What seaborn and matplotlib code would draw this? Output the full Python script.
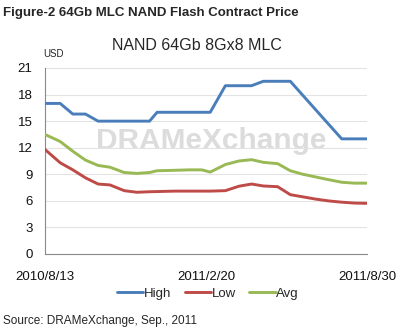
import matplotlib
matplotlib.use("Agg")
import matplotlib.pyplot as plt
import matplotlib.dates as mdates
import seaborn as sns
import pandas as pd
import numpy as np

dates = ["2010-08-13", "2010-08-31", "2010-09-15", "2010-09-30", "2010-10-15",
         "2010-10-29", "2010-11-15", "2010-11-30", "2010-12-15", "2010-12-24",
         "2011-01-14", "2011-01-31", "2011-02-15", "2011-02-25", "2011-03-15",
         "2011-03-31", "2011-04-15", "2011-04-29", "2011-05-16", "2011-05-31",
         "2011-06-15", "2011-06-30", "2011-07-15", "2011-07-31", "2011-08-15",
         "2011-08-30"]
high = [17.0, 17.0, 15.8, 15.8, 15.0, 15.0, 15.0, 15.0, 15.0, 16.0,
        16.0, 16.0, 16.0, 16.0, 19.0, 19.0, 19.0, 19.5, 19.5, 19.5,
        17.9, 16.3, 14.7, 13.0, 13.0, 13.0]
low = [11.8, 10.3, 9.5, 8.6, 7.9, 7.8, 7.15, 6.97, 7.03, 7.05,
       7.1, 7.1, 7.1, 7.1, 7.15, 7.65, 7.9, 7.68, 7.6, 6.7,
       6.45, 6.2, 6.0, 5.85, 5.75, 5.72]
avg = [13.5, 12.7, 11.6, 10.6, 10.0, 9.8, 9.2, 9.1, 9.2, 9.4,
       9.45, 9.5, 9.5, 9.25, 10.1, 10.5, 10.65, 10.35, 10.2, 9.4,
       9.0, 8.7, 8.4, 8.1, 8.0, 8.0]
series_names = ["High", "Low", "Avg"]
colors = ["#4A7EBB", "#BE4B48", "#98B954"]
yticks = [0, 3, 6, 9, 12, 15, 18, 21]
xtick_labels = ["2010/8/13", "2011/2/20", "2011/8/30"]

df = pd.DataFrame({"date": pd.to_datetime(dates), "High": high, "Low": low, "Avg": avg})
long = df.melt(id_vars="date", value_vars=series_names, var_name="series", value_name="price")

sns.set_style("white")
plt.rcParams["font.family"] = ["Liberation Sans", "DejaVu Sans"]

fig = plt.figure(figsize=(3.99, 3.33), dpi=100)
ax = fig.add_axes([45/399, 1-254/333, (367-45)/399, (254-68)/333])

# watermark
ax.text(0.515, 0.605, "DRAMeXchange", transform=ax.transAxes, ha="center", va="center",
        fontsize=21.5, fontweight="bold", color="#dcdcdc", zorder=0)

sns.lineplot(data=long, x="date", y="price", hue="series", hue_order=series_names,
             palette=colors, linewidth=2.1, ax=ax, legend=True, zorder=3)

ax.set_ylim(0, 21)
ax.set_yticks(yticks)
ax.set_yticklabels([str(v) for v in yticks], fontsize=9.5)
xt = pd.to_datetime(["2010-08-13", "2011-02-20", "2011-08-30"])
ax.set_xlim(xt[0], xt[-1])
ax.set_xticks(mdates.date2num(xt))
ax.set_xticklabels(xtick_labels, fontsize=9.5)
ax.set_xlabel("")
ax.set_ylabel("")
ax.grid(axis="y", color="#e3e3e3", linewidth=0.8)
ax.grid(axis="x", visible=False)
for s in ["top", "right"]:
    ax.spines[s].set_visible(False)
for s in ["left", "bottom"]:
    ax.spines[s].set_color("#8a8a8a")
    ax.spines[s].set_linewidth(0.8)
ax.tick_params(axis="both", which="both", length=4, width=0.8, color="#8a8a8a",
               direction="out", pad=5, labelcolor="#111111")
ax.tick_params(axis="x", pad=8)
ax.set_axisbelow(True)

leg = ax.legend(loc="upper center", bbox_to_anchor=(208/399, 1-282/333),
                bbox_transform=fig.transFigure, ncol=3, frameon=False,
                fontsize=9.5, handlelength=2.0, handletextpad=0.05,
                columnspacing=1.0, borderaxespad=0)

fig.text(3/399, 1-13/333, "Figure-2 64Gb MLC NAND Flash Contract Price",
         fontsize=9.5, fontweight="bold", ha="left", va="center",
         family=["Liberation Sans Narrow", "Liberation Sans", "DejaVu Sans"])
fig.text(197/399, 1-45/333, "NAND 64Gb 8Gx8 MLC", fontsize=11.5,
         ha="center", va="center")
fig.text(53/399, 1-54/333, "USD", fontsize=7, ha="center", va="center")
fig.text(3/399, 1-321/333, "Source: DRAMeXchange, Sep., 2011", fontsize=8.5,
         ha="left", va="center")

fig.savefig("out.png", dpi=100)
